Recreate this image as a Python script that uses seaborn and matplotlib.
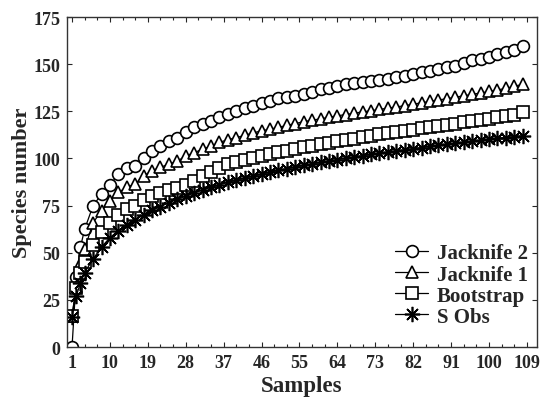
import matplotlib
matplotlib.use("Agg")
import matplotlib.pyplot as plt
import seaborn as sns
from matplotlib.ticker import MultipleLocator, FixedLocator

samples = [1, 2, 3, 4, 6, 8, 10, 12, 14, 16, 18, 20, 22, 24, 26, 28, 30, 32, 34, 36,
           38, 40, 42, 44, 46, 48, 50, 52, 54, 56, 58, 60, 62, 64, 66, 68, 70, 72, 74, 76,
           78, 80, 82, 84, 86, 88, 90, 92, 94, 96, 98, 100, 102, 104, 106, 108]

jacknife2 = [0, 37, 53, 62.5, 75, 81, 86, 91.5, 95, 96, 100, 104, 106.5, 109, 110.7, 114,
             116.5, 118, 120, 122, 123.7, 125.3, 127, 128, 129.4, 130.6, 131.9, 132.4, 133.2,
             134.1, 135.4, 136.6, 137.5, 138.4, 139.3, 140, 140.8, 141.2, 141.7, 142, 143,
             143.5, 144.7, 145.6, 146.5, 147.4, 148.3, 149.2, 150.5, 152, 152.8, 154, 155.3,
             156.5, 157.6, 159.6]

jacknife1 = [16.5, 32, 44, 52, 66, 72, 77.5, 82, 84.7, 86.5, 90.8, 93.5, 95.3, 97, 98.5, 101.4,
             103, 105, 106.5, 108.5, 110, 111, 112.3, 113.5, 114.7, 115.5, 116.5, 117.5, 118.5,
             119.5, 120.3, 121, 121.8, 122.6, 123.3, 124, 124.7, 125.3, 126, 126.7, 127.3, 128,
             128.8, 129.5, 130.3, 131, 131.7, 132.5, 133.2, 134, 134.7, 135.5, 136.3, 137.2,
             138.2, 139.4]

bootstrap = [16.5, 31.5, 39, 45, 54, 61, 66, 70, 73, 75, 78, 80, 81.5, 83, 84.5, 86, 88.2, 90.8,
             93, 95, 96.8, 98, 99.2, 100.3, 101.3, 102.3, 103.3, 104.2, 105, 106, 106.8, 107.5,
             108.3, 109, 109.8, 110.5, 111.2, 112, 112.7, 113.3, 114, 114.6, 115.3, 116, 116.6,
             117.3, 117.9, 118.5, 119.2, 119.8, 120.5, 121.1, 121.8, 122.5, 123.3, 124.4]

s_obs = [16, 27, 34, 39.5, 46.7, 53, 58, 61.7, 64.5, 67.5, 70, 72.5, 74.5, 76.5, 78.3, 80, 81.7,
         83.3, 84.7, 86, 87.3, 88.5, 89.6, 90.7, 91.7, 92.7, 93.7, 94.6, 95.5, 96.3, 97.1, 97.9,
         98.7, 99.4, 100.1, 100.8, 101.5, 102.2, 102.8, 103.4, 104, 104.6, 105.2, 105.8, 106.4,
         106.9, 107.5, 108, 108.6, 109.1, 109.6, 110.1, 110.6, 111.1, 111.6, 112]

# label, values, marker, marker size
series = [("Jacknife 2", jacknife2, "o", 8.5),
          ("Jacknife 1", jacknife1, "^", 8.5),
          ("Bootstrap", bootstrap, "s", 8),
          ("S Obs", s_obs, (8, 2, 0), 11)]

xticks = [1, 10, 19, 28, 37, 46, 55, 64, 73, 82, 91, 100, 109]

sns.set_style("ticks")
plt.rcParams["font.family"] = ["Liberation Serif", "DejaVu Serif"]
plt.rcParams["font.weight"] = "bold"

fig = plt.figure(figsize=(5.41, 4.02), dpi=100)
ax = fig.add_axes([0.1238, 0.1343, 0.8688, 0.8209])

for label, values, marker, ms in series:
    sns.lineplot(x=samples, y=values, ax=ax, label=label, color="black", linewidth=0.9,
                 marker=marker, markersize=ms, markerfacecolor="white",
                 markeredgecolor="black", markeredgewidth=1.2)

ax.set_xlim(-0.2, 111.4)
ax.set_ylim(0, 175)
ax.xaxis.set_major_locator(FixedLocator(xticks))
ax.xaxis.set_minor_locator(MultipleLocator(3, offset=1))
ax.yaxis.set_major_locator(MultipleLocator(25))
ax.tick_params(which="both", direction="in", top=True, right=True, labelsize=13, pad=5)
ax.tick_params(which="major", length=3.5, width=0.8)
ax.tick_params(which="minor", length=2.5, width=0.8)
for lbl in ax.get_xticklabels() + ax.get_yticklabels():
    lbl.set_fontweight("bold")
for sp in ax.spines.values():
    sp.set_linewidth(1.0)
    sp.set_color("#333333")

ax.set_xlabel("Samples", fontsize=16.5, fontweight="bold", labelpad=3)
ax.set_ylabel("Species number", fontsize=16, fontweight="bold", labelpad=1)

ax.legend(loc="lower right", frameon=False, prop={"size": 15, "weight": "bold"},
          handlelength=1.6, handletextpad=0.4, labelspacing=0.05,
          bbox_to_anchor=(1.02, 0.005))

fig.savefig("out.png", dpi=100)
